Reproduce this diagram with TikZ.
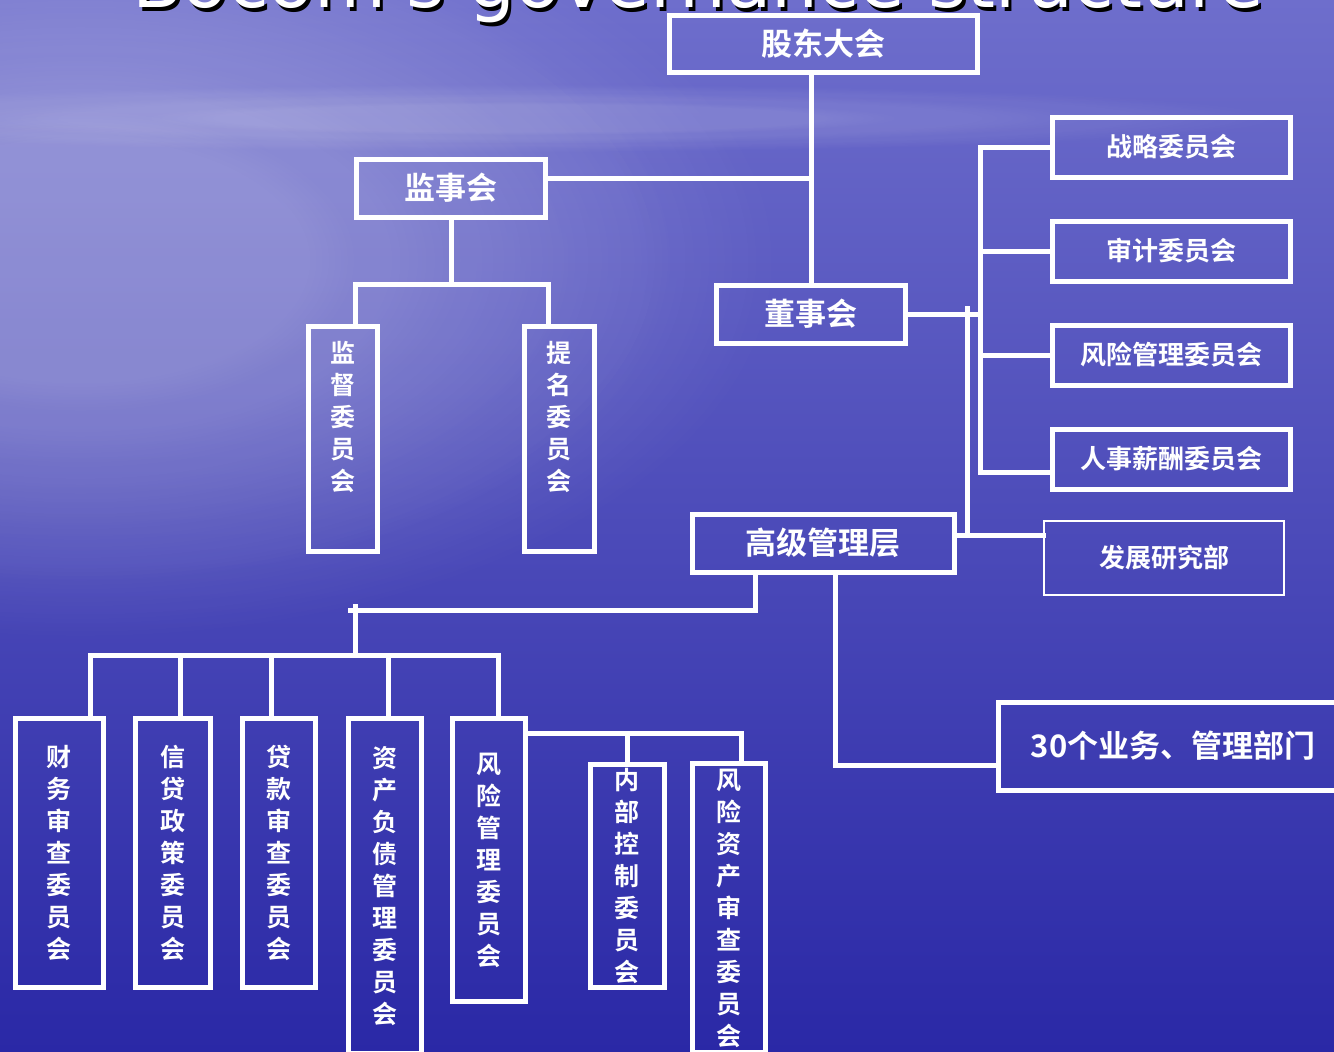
\documentclass[tikz,border=0pt]{standalone}
\usepackage{fontspec}
\newfontfamily\cjk{Noto Sans CJK SC}[BoldFont={Noto Sans CJK SC Bold}]
\newfontfamily\titlefont{DejaVu Sans}
\usetikzlibrary{fadings}
\definecolor{seatop}{RGB}{110,110,204}
\definecolor{seabot}{RGB}{42,40,166}

\begin{document}
\begin{tikzpicture}[x=1pt,y=-1pt,line join=miter,
    box/.style={draw=white,line width=5pt,text=white,inner sep=0pt,
      font=\cjk\bfseries\fontsize{31}{31}\selectfont},
    cbox/.style={box,minimum width=238pt,minimum height=60pt,
      font=\cjk\bfseries\fontsize{26}{26}\selectfont},
    vbox/.style={box,align=center,font=\cjk\bfseries\fontsize{25}{32}\selectfont},
    link/.style={draw=white,line width=5pt,line cap=rect}]
  \useasboundingbox (0,0) rectangle (1334,1052);
  % background
  \fill[top color=seatop,bottom color=seabot] (0,0) rectangle (1334,1052);
  \foreach \r in {1,0.85,0.7,0.55,0.4}
    \fill[white,fill opacity=0.07,path fading=circle with fuzzy edge 20 percent]
      (80,260) ellipse [x radius=\r*700pt,y radius=\r*380pt];
  \foreach \r in {1,0.75,0.5}
    \fill[white,fill opacity=0.06,path fading=circle with fuzzy edge 20 percent]
      (520,118) ellipse [x radius=\r*760pt,y radius=\r*34pt];

  % title, with its shadow
  \node[anchor=base,white,font=\titlefont\fontsize{74}{74}\selectfont] (title) at (698,8)
    {\rlap{\raisebox{-4pt}{\kern3pt\color{black}Bocom's governance structure}}Bocom's governance structure};

  % boxes
  \node[box,minimum width=308pt,minimum height=57pt] (gudong) at (823,44) {股东大会};
  \node[box,minimum width=189pt,minimum height=58pt] (jianshi) at (451,188) {监事会};
  \node[box,minimum width=189pt,minimum height=58pt] (dongshi) at (811,314) {董事会};
  \node[vbox,minimum width=69pt,minimum height=225pt] (jiandu) at (343,439) {监\\督\\委\\员\\会\\[14pt]\mbox{}};
  \node[vbox,minimum width=70pt,minimum height=225pt] (timing) at (559,439) {提\\名\\委\\员\\会\\[14pt]\mbox{}};
  \node[cbox] (zhanlue) at (1171,147) {战略委员会};
  \node[cbox] (shenji) at (1171,251) {审计委员会};
  \node[cbox] (fengxian) at (1171,355) {风险管理委员会};
  \node[cbox] (renshi) at (1171,459) {人事薪酬委员会};
  \node[box,minimum width=262pt,minimum height=58pt] (gaoji) at (823,543) {高级管理层};
  \node[cbox,line width=2pt,minimum width=240pt,minimum height=74pt] (fazhan) at (1164,558) {发展研究部};
  \node[box,minimum width=349pt,minimum height=88pt] (bumen) at (1173,746) {30个业务、管理部门};
  \node[vbox,minimum width=88pt,minimum height=269pt] (caiwu) at (59,853) {财\\务\\审\\查\\委\\员\\会};
  \node[vbox,minimum width=75pt,minimum height=269pt] (xindai) at (173,853) {信\\贷\\政\\策\\委\\员\\会};
  \node[vbox,minimum width=73pt,minimum height=269pt] (daikuan) at (279,853) {贷\\款\\审\\查\\委\\员\\会};
  \node[vbox,minimum width=73pt,minimum height=335pt] (zichan) at (385,886) {资\\产\\负\\债\\管\\理\\委\\员\\会};
  \node[vbox,minimum width=73pt,minimum height=283pt] (fxgl) at (489,860) {风\\险\\管\\理\\委\\员\\会};
  \node[vbox,minimum width=74pt,minimum height=223pt] (neibu) at (627,876) {内\\部\\控\\制\\委\\员\\会};
  \node[vbox,minimum width=73pt,minimum height=289pt] (fxzc) at (729,908) {风\\险\\资\\产\\审\\查\\委\\员\\会};

  % junctions
  \coordinate (jsj) at (811,178);
  \coordinate (jsfork) at (451,284);
  \coordinate (ctop) at (980,147);
  \coordinate (cbot) at (980,472);
  \coordinate (ftop) at (967,308);
  \coordinate (fz) at (967,535);
  \coordinate (gl) at (755,610);
  \coordinate (gll) at (355,610);
  \coordinate (barl) at (90,655);
  \coordinate (gr) at (835,765);
  \coordinate (fr) at (741,733);

  % connectors
  \draw[link] (gudong.south -| dongshi.north) -- (dongshi.north);
  \draw[link] (jianshi.east |- jsj) -- (jsj);
  \draw[link] (jianshi.south) -- (jsfork);
  \draw[link] ([xshift=12pt]jiandu.north) |- (jsfork) -| ([xshift=-11pt]timing.north);
  \draw[link] (dongshi.east) -- (dongshi.east -| ctop);
  \draw[link] (ctop) -- (cbot) -- (cbot -| renshi.west);
  \foreach \n in {zhanlue,shenji,fengxian}
    \draw[link] (ctop |- \n.west) -- (\n.west);
  \draw[link] (ftop) -- (fz);
  \draw[link] (gaoji.east |- fz) -- (fazhan.west |- fz);
  \draw[link] (gaoji.south -| gl) |- ([xshift=-5pt]gll);
  \draw[link] (gll |- barl) -- ([yshift=4pt]gll);
  \foreach \n/\d in {caiwu/31,xindai/7,daikuan/-8,zichan/3,fxgl/9}
    \draw[link] ([xshift=\d pt]\n.north) |- (barl);
  \draw[link] (gaoji.south -| gr) |- (bumen.west |- gr);
  \draw[link] (fxgl.east |- fr) -| ([xshift=12pt]fxzc.north);
  \draw[link] (neibu.north) -- (neibu.north |- fr);
\end{tikzpicture}
\end{document}
